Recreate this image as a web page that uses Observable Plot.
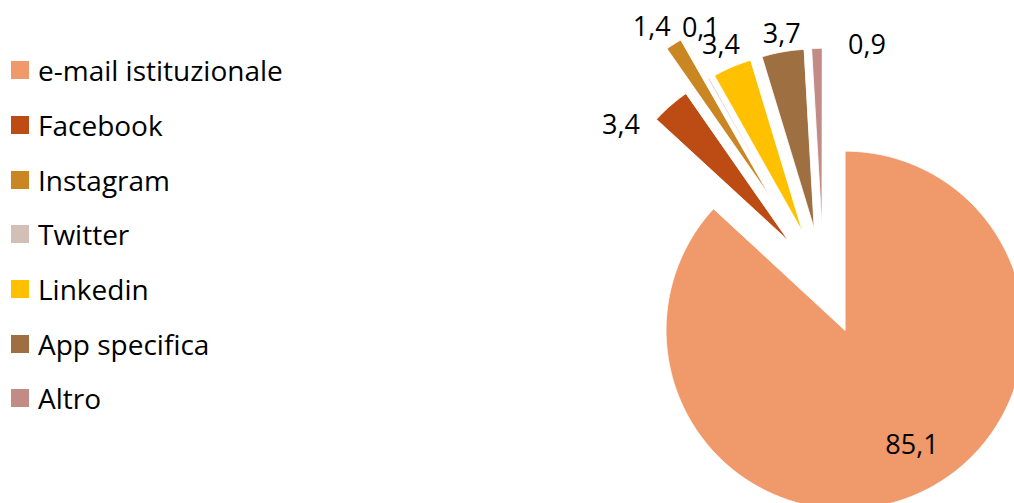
<!DOCTYPE html>
<html>
<head>
<meta charset="utf-8">
<script src="https://cdn.jsdelivr.net/npm/d3@7"></script>
<script src="https://cdn.jsdelivr.net/npm/@observablehq/plot@0.6"></script>
<style>
  body { margin: 0; background: #fff; }
  #wrap { position: relative; width: 1014px; height: 503px; overflow: hidden; font-family: "Open Sans", Lato, sans-serif; }
  #wrap svg { position: absolute; left: 0; top: 0; }
  #legend { position: absolute; left: 11px; top: 43px; z-index: 2; }
  .row { display: flex; align-items: center; height: 54.7px; font-size: 28px; color: #000; }
  .sw { width: 18px; height: 18px; margin-right: 9px; flex: none; }
</style>
</head>
<body>
<div id="wrap"><div id="legend"></div></div>
<script>
// ---- data ----
const categories = ["e-mail istituzionale", "Facebook", "Instagram", "Twitter", "Linkedin", "App specifica", "Altro"];
const values = [85.1, 3.4, 1.4, 0.1, 3.4, 3.7, 0.9];
const colors = ["#F0996B", "#BC4B14", "#C98623", "#D2BFB5", "#FFC000", "#9E6F40", "#C28B86"];

// ---- layout (styles) ----
const cx = 823, cy = 280.5, R = 179;            // pie centre & radius in px
const explode = [0.30, 0.30, 0.565, 0.30, 0.30, 0.30, 0.30]; // fraction of radius
const labelNudge = [[13, -8], [-31, 41], [-7, 7], [6, -26], [0, 4], [4, 10], [51, 25]]; // px

const fmt = v => String(v).replace(".", ",");
const total = d3.sum(values);

// build slice polygons in unit coordinates
const polys = [];
const labelRows = [];
let acc = 0;
values.forEach((v, i) => {
  const a0 = acc / total * 2 * Math.PI;
  acc += v;
  const a1 = acc / total * 2 * Math.PI;
  const mid = (a0 + a1) / 2;
  const ox = explode[i] * Math.sin(mid), oy = explode[i] * Math.cos(mid);
  polys.push({name: categories[i], x: ox, y: oy, k: 0});
  const n = Math.max(2, Math.ceil((a1 - a0) / (Math.PI / 360)));
  for (let j = 0; j <= n; j++) {
    const a = a0 + (a1 - a0) * j / n;
    polys.push({name: categories[i], x: ox + Math.sin(a), y: oy + Math.cos(a), k: j + 1});
  }
  const lr = v / total > 0.5 ? 0.75 : 1 + 28 / R;
  labelRows.push({
    name: categories[i],
    label: fmt(v),
    x: ox + lr * Math.sin(mid) + labelNudge[i][0] / R,
    y: oy + lr * Math.cos(mid) - labelNudge[i][1] / R
  });
});

const chart = Plot.plot({
  width: 1014,
  height: 503,
  margin: 0,
  style: {fontFamily: "'Open Sans', Lato, sans-serif", background: "transparent"},
  x: {domain: [-1, 1], range: [cx - R, cx + R], axis: null},
  y: {domain: [-1, 1], range: [cy + R, cy - R], axis: null},
  color: {domain: categories, range: colors},
  marks: [
    Plot.line(polys, {x: "x", y: "y", z: "name", fill: "name", stroke: "white", strokeWidth: 0.8, curve: "linear-closed"}),
    Plot.text(labelRows, {x: "x", y: "y", text: "label", fontSize: 27, fill: "#000"})
  ]
});
document.getElementById("wrap").appendChild(chart);

const legend = d3.select("#legend");
categories.forEach((c, i) => {
  const row = legend.append("div").attr("class", "row");
  row.append("div").attr("class", "sw").style("background", colors[i]);
  row.append("span").text(c);
});
</script>
</body>
</html>
